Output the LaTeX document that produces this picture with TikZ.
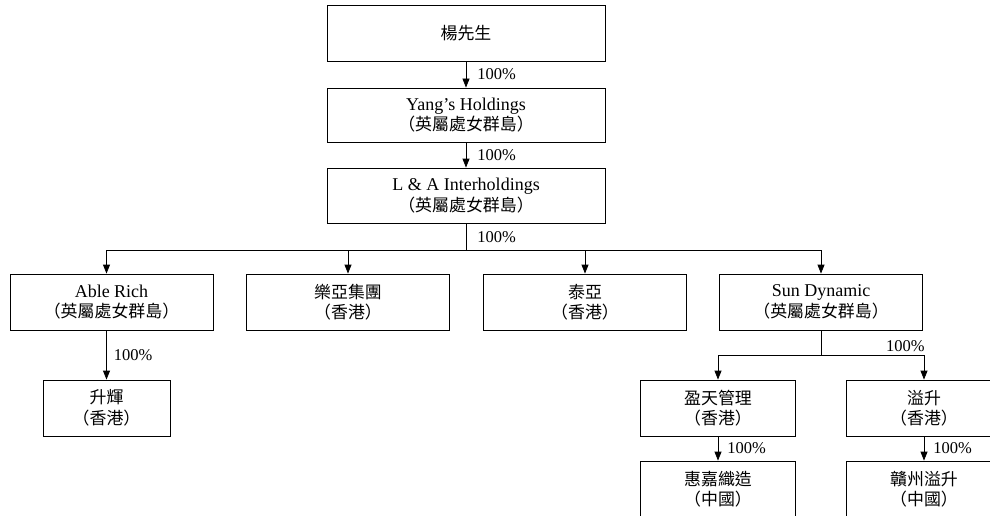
\documentclass[tikz,border=0pt]{standalone}
\usepackage{fontspec}
\setmainfont{Liberation Serif}
\newfontfamily\cjk[Scale=0.94]{Noto Sans CJK TC}
\usetikzlibrary{arrows.meta}

\begin{document}
\begin{tikzpicture}[x=1pt, y=-1pt, line width=0.8pt,
  every node/.style={font=\fontsize{18}{20.5}\selectfont},
  entity/.style={draw, minimum width=203pt, minimum height=56pt, align=center, inner sep=2pt},
  pct/.style={font=\fontsize{16.5}{18}\selectfont, anchor=west, inner sep=1pt},
  own/.style={-{Triangle[length=9pt,width=7pt]}}]

\useasboundingbox (0,0) rectangle (990,516);
\clip (0,0) rectangle (990,516);

% top of the chain
\node[entity, minimum width=278pt] (mr) at (466,33) {\cjk 楊先生};
\node[entity, minimum width=278pt, minimum height=54pt] (yang) at (466,115) {Yang's Holdings\\{\cjk （英屬處女群島）}};
\node[entity, minimum width=278pt, minimum height=55pt] (la) at (466,195.5) {L \& A Interholdings\\{\cjk （英屬處女群島）}};

% second level
\node[entity] (able) at (111.5,302) {Able Rich\\{\cjk （英屬處女群島）}};
\node[entity] (lea) at (348,302) {\cjk 樂亞集團\\\cjk （香港）};
\node[entity] (tai) at (585,302) {\cjk 泰亞\\\cjk （香港）};
\node[entity] (sun) at (821,302) {Sun Dynamic\\{\cjk （英屬處女群島）}};

% lower levels
\node[entity, minimum width=127pt] (sh) at (106.5,408) {\cjk 升輝\\\cjk （香港）};
\node[entity, minimum width=155pt] (ying) at (718,408) {\cjk 盈天管理\\\cjk （香港）};
\node[entity, minimum width=155pt] (yi) at (924,408) {\cjk 溢升\\\cjk （香港）};
\node[entity, minimum width=155pt] (hui) at (718,489) {\cjk 惠嘉織造\\\cjk （中國）};
\node[entity, minimum width=155pt] (gan) at (924,489) {\cjk 贛州溢升\\\cjk （中國）};

\coordinate (bus) at (466,250);
\coordinate (sbus) at (821,355);

\draw[own] (mr) -- (yang) node[pct, midway, xshift=10pt] {100\%};
\draw[own] (yang) -- (la) node[pct, midway, xshift=10pt] {100\%};
\draw (la) -- (bus) node[pct, midway, xshift=10pt] {100\%};
\draw (bus -| sh) -- (bus -| sun);
\draw[own] (bus -| sh) -- (able.north -| sh);
\foreach \n in {lea, tai, sun}
  \draw[own] (bus -| \n) -- (\n);
\draw[own] (able.south -| sh) -- (sh) node[pct, midway, xshift=6pt] {100\%};

\draw (sun) -- (sbus);
\draw (sbus -| ying) -- (sbus -| yi);
\foreach \n in {ying, yi}
  \draw[own] (sbus -| \n) -- (\n);
\node[pct, anchor=south east] (sunpct) at (926,353) {100\%};
\draw[own] (ying) -- (hui) node[pct, midway, xshift=8pt] {100\%};
\draw[own] (yi) -- (gan) node[pct, midway, xshift=8pt] {100\%};

\end{tikzpicture}
\end{document}
